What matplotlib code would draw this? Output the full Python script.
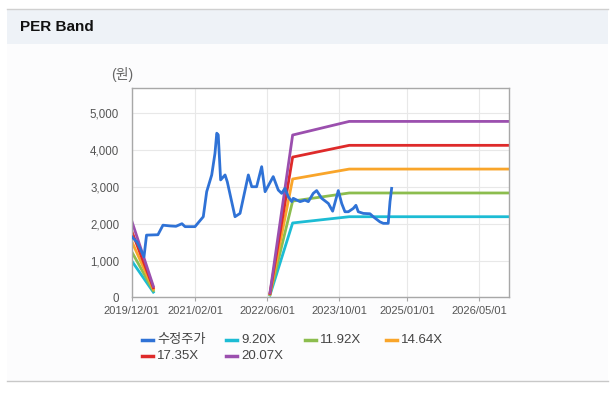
import numpy as np
import pandas as pd
import matplotlib.pyplot as plt
import matplotlib.dates as mdates
from matplotlib.lines import Line2D
from matplotlib.patches import Rectangle
from matplotlib.ticker import FuncFormatter

plt.rcParams['font.family'] = ['Liberation Sans', 'Noto Sans CJK KR']

# 수정주가 (adjusted price)
price_dates = ['2019-12-01', '2020-01-06', '2020-02-22', '2020-03-10', '2020-05-26',
               '2020-06-29', '2020-08-15', '2020-09-25', '2020-11-04', '2020-11-25',
               '2021-01-31', '2021-03-28', '2021-04-20', '2021-05-24', '2021-06-15',
               '2021-06-27', '2021-07-07', '2021-07-23', '2021-08-22', '2021-09-06',
               '2021-10-28', '2021-12-01', '2022-01-26', '2022-02-18', '2022-03-23',
               '2022-04-26', '2022-05-19', '2022-07-13', '2022-08-16', '2022-09-08',
               '2022-09-30', '2022-10-23', '2022-11-15', '2022-11-25', '2023-01-10',
               '2023-02-12', '2023-03-07', '2023-04-09', '2023-05-02', '2023-06-05',
               '2023-07-20', '2023-08-18', '2023-09-25', '2023-10-18', '2023-11-09',
               '2023-12-02', '2024-01-04', '2024-01-22', '2024-02-07', '2024-03-12',
               '2024-04-26', '2024-05-18', '2024-07-02', '2024-07-25', '2024-08-27',
               '2024-09-08', '2024-09-19']
price = [1650, 1500, 1100, 1690, 1700,
         1960, 1940, 1930, 2000, 1920,
         1920, 2190, 2870, 3325, 3915,
         4460, 4414, 3190, 3325, 3140,
         2190, 2280, 3325, 3005, 3005,
         3550, 2870, 3280, 2915, 2825,
         2960, 2730, 2600, 2690, 2600,
         2640, 2600, 2825, 2900, 2690,
         2550, 2340, 2900, 2550, 2325,
         2325, 2415, 2500, 2325, 2280,
         2270, 2190, 2050, 2010, 2010,
         2600, 2960]

# PER band lines (gap between the two segments)
band_dates = ['2019-12-01', '2020-04-25', '2021-06-01', '2022-06-21',
              '2022-11-21', '2023-12-08', '2026-11-22']
band_920 = [990, 140, np.nan, 60, 2020, 2190, 2190]
band_1192 = [1240, 180, np.nan, 75, 2615, 2835, 2835]
band_1464 = [1520, 220, np.nan, 90, 3215, 3485, 3485]
band_1735 = [1800, 260, np.nan, 105, 3810, 4130, 4130]
band_2007 = [2080, 300, np.nan, 120, 4410, 4780, 4780]

bands = [band_920, band_1192, band_1464, band_1735, band_2007]
band_labels = ['9.20X', '11.92X', '14.64X', '17.35X', '20.07X']
band_colors = ['#1cbcd4', '#8cbd4e', '#f9a52a', '#de2a2a', '#9b4fae']
price_color = '#2f72d6'

tick_dates = ['2019-12-01', '2021-02-01', '2022-06-01', '2023-10-01', '2025-01-01', '2026-05-01']

W, H = 615, 395
fig = plt.figure(figsize=(W / 100, H / 100), dpi=100)
fig.patch.set_facecolor('white')

# panel + header
fig.add_artist(Rectangle((7 / W, 1 - 381 / H), 601 / W, 372 / H, transform=fig.transFigure,
                         facecolor='#fcfcfd', edgecolor='none', zorder=0))
fig.add_artist(Rectangle((7 / W, 1 - 44 / H), 601 / W, 35 / H, transform=fig.transFigure,
                         facecolor='#eef2f7', edgecolor='none', zorder=0))
fig.add_artist(Line2D([7 / W, 608 / W], [1 - 9 / H] * 2, color='#d0d0d0', lw=1))
fig.add_artist(Line2D([7 / W, 608 / W], [1 - 381 / H] * 2, color='#c8c8c8', lw=1))
fig.text(20 / W, 1 - 27 / H, 'PER Band', fontsize=11, fontweight='bold', va='center', color='#111111')

ax = fig.add_axes([131.7 / W, 97.7 / H, 377.6 / W, 209 / H])
ax.set_facecolor('white')

bd = pd.to_datetime(band_dates)
for vals, col in zip(bands, band_colors):
    ax.plot(bd, vals, color=col, lw=2, zorder=2)
ax.plot(pd.to_datetime(price_dates), price, color=price_color, lw=2, zorder=3)

ax.set_xlim(pd.Timestamp('2019-12-01'), pd.Timestamp('2026-11-22'))
ax.set_ylim(0, 5680)
ax.set_yticks([0, 1000, 2000, 3000, 4000, 5000])
ax.yaxis.set_major_formatter(FuncFormatter(lambda v, p: f'{int(v):,}'))
ax.set_xticks(pd.to_datetime(tick_dates))
ax.xaxis.set_major_formatter(mdates.DateFormatter('%Y/%m/%d'))

ax.grid(True, color='#e8e8e8', lw=0.8)
ax.set_axisbelow(True)
for s in ax.spines.values():
    s.set_color('#a8a8a8')
    s.set_linewidth(1)
ax.tick_params(axis='x', length=3, color='#a8a8a8', labelsize=8, labelcolor='#555555', pad=3)
ax.tick_params(axis='y', length=0, labelsize=8.3, labelcolor='#555555', pad=9)

fig.text(122 / W, 1 - 74 / H, '(원)', ha='center', va='center', fontsize=10, color='#666666')

# legend drawn by hand, 4 columns x 2 rows
leg_labels = ['수정주가'] + band_labels
leg_colors = [price_color] + band_colors
col_x = [142, 226, 305, 386]
row_y = [340, 356]
for i, (lab, col) in enumerate(zip(leg_labels, leg_colors)):
    x0 = col_x[i % 4]
    y0 = row_y[i // 4]
    fig.add_artist(Line2D([x0 / W, (x0 + 11) / W], [1 - y0 / H] * 2, color=col, lw=2.5))
    fig.text((x0 + 15) / W, 1 - y0 / H, lab, fontsize=9.5, va='center', color='#444444')

fig.savefig('out.png', dpi=100)
